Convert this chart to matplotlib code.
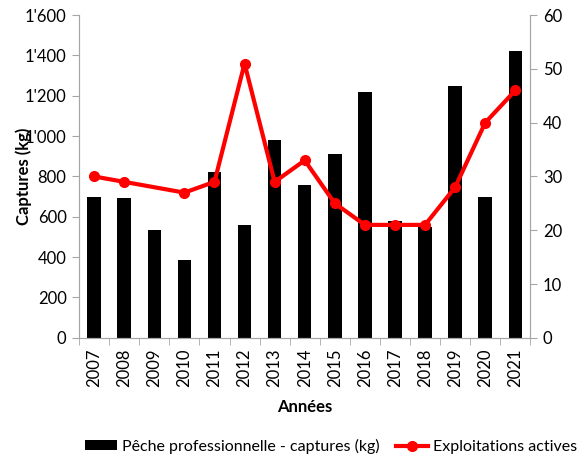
import numpy as np
import matplotlib.pyplot as plt
from matplotlib.ticker import FuncFormatter, FixedLocator

plt.rcParams['font.family'] = ['Lato', 'DejaVu Sans']

years = ['2007', '2008', '2009', '2010', '2011', '2012', '2013', '2014',
         '2015', '2016', '2017', '2018', '2019', '2020', '2021']
captures = [700, 695, 535, 385, 820, 560, 980, 760, 910, 1220, 580, 550, 1250, 700, 1420]
exploitations = [30, 29, np.nan, 27, 29, 51, 29, 33, 25, 21, 21, 21, 28, 40, 46]

x = np.arange(len(years))
expl = np.array(exploitations, dtype=float)
ok = ~np.isnan(expl)

fig = plt.figure(figsize=(5.86, 4.59), dpi=100)
ax = fig.add_axes([0.135, 0.264, 0.770, 0.703])
ax2 = ax.twinx()

grey = '#a6a6a6'
bars = ax.bar(x, captures, width=0.45, color='black', zorder=2,
              label='Pêche professionnelle - captures (kg)')
line, = ax2.plot(x[ok], expl[ok], color='#ff0000', lw=3, marker='o', ms=7,
                 label='Exploitations actives', zorder=3)

ax.set_xlim(-0.5, len(years) - 0.5)
ax.set_ylim(0, 1600)
ax.set_yticks(np.arange(0, 1601, 200))
ax.yaxis.set_major_formatter(FuncFormatter(lambda v, p: f"{int(v):,}".replace(',', "'")))
ax2.set_ylim(0, 60)
ax2.set_yticks(np.arange(0, 61, 10))

ax.set_xticks(x)
ax.set_xticklabels(years, rotation=90)
ax.xaxis.set_minor_locator(FixedLocator(np.arange(-0.5, len(years), 1)))
ax.tick_params(axis='x', which='major', length=0, pad=8, labelsize=12)
ax.tick_params(axis='x', which='minor', length=5, color=grey, direction='out')
ax.tick_params(axis='y', length=5, color=grey, labelsize=12, pad=4)
ax2.tick_params(axis='y', length=5, color=grey, labelsize=12, pad=4)

for a in (ax, ax2):
    a.spines['top'].set_visible(False)
    for s in ('left', 'right', 'bottom'):
        a.spines[s].set_color(grey)

ax.set_ylabel('Captures (kg)', fontweight='bold', fontsize=12)
ax.yaxis.set_label_coords(-0.105, 0.5)   # sits over the tick labels like the original
ax.set_xlabel('Années', fontweight='bold', fontsize=12, labelpad=8)

fig.legend(handles=[bars, line], loc='center', bbox_to_anchor=(0.565, 0.028),
           ncol=2, frameon=False, fontsize=11.5, handlelength=2.0, handleheight=0.5,
           handletextpad=0.3, columnspacing=1.0, borderpad=0.2)

fig.savefig('out.png', dpi=100)
